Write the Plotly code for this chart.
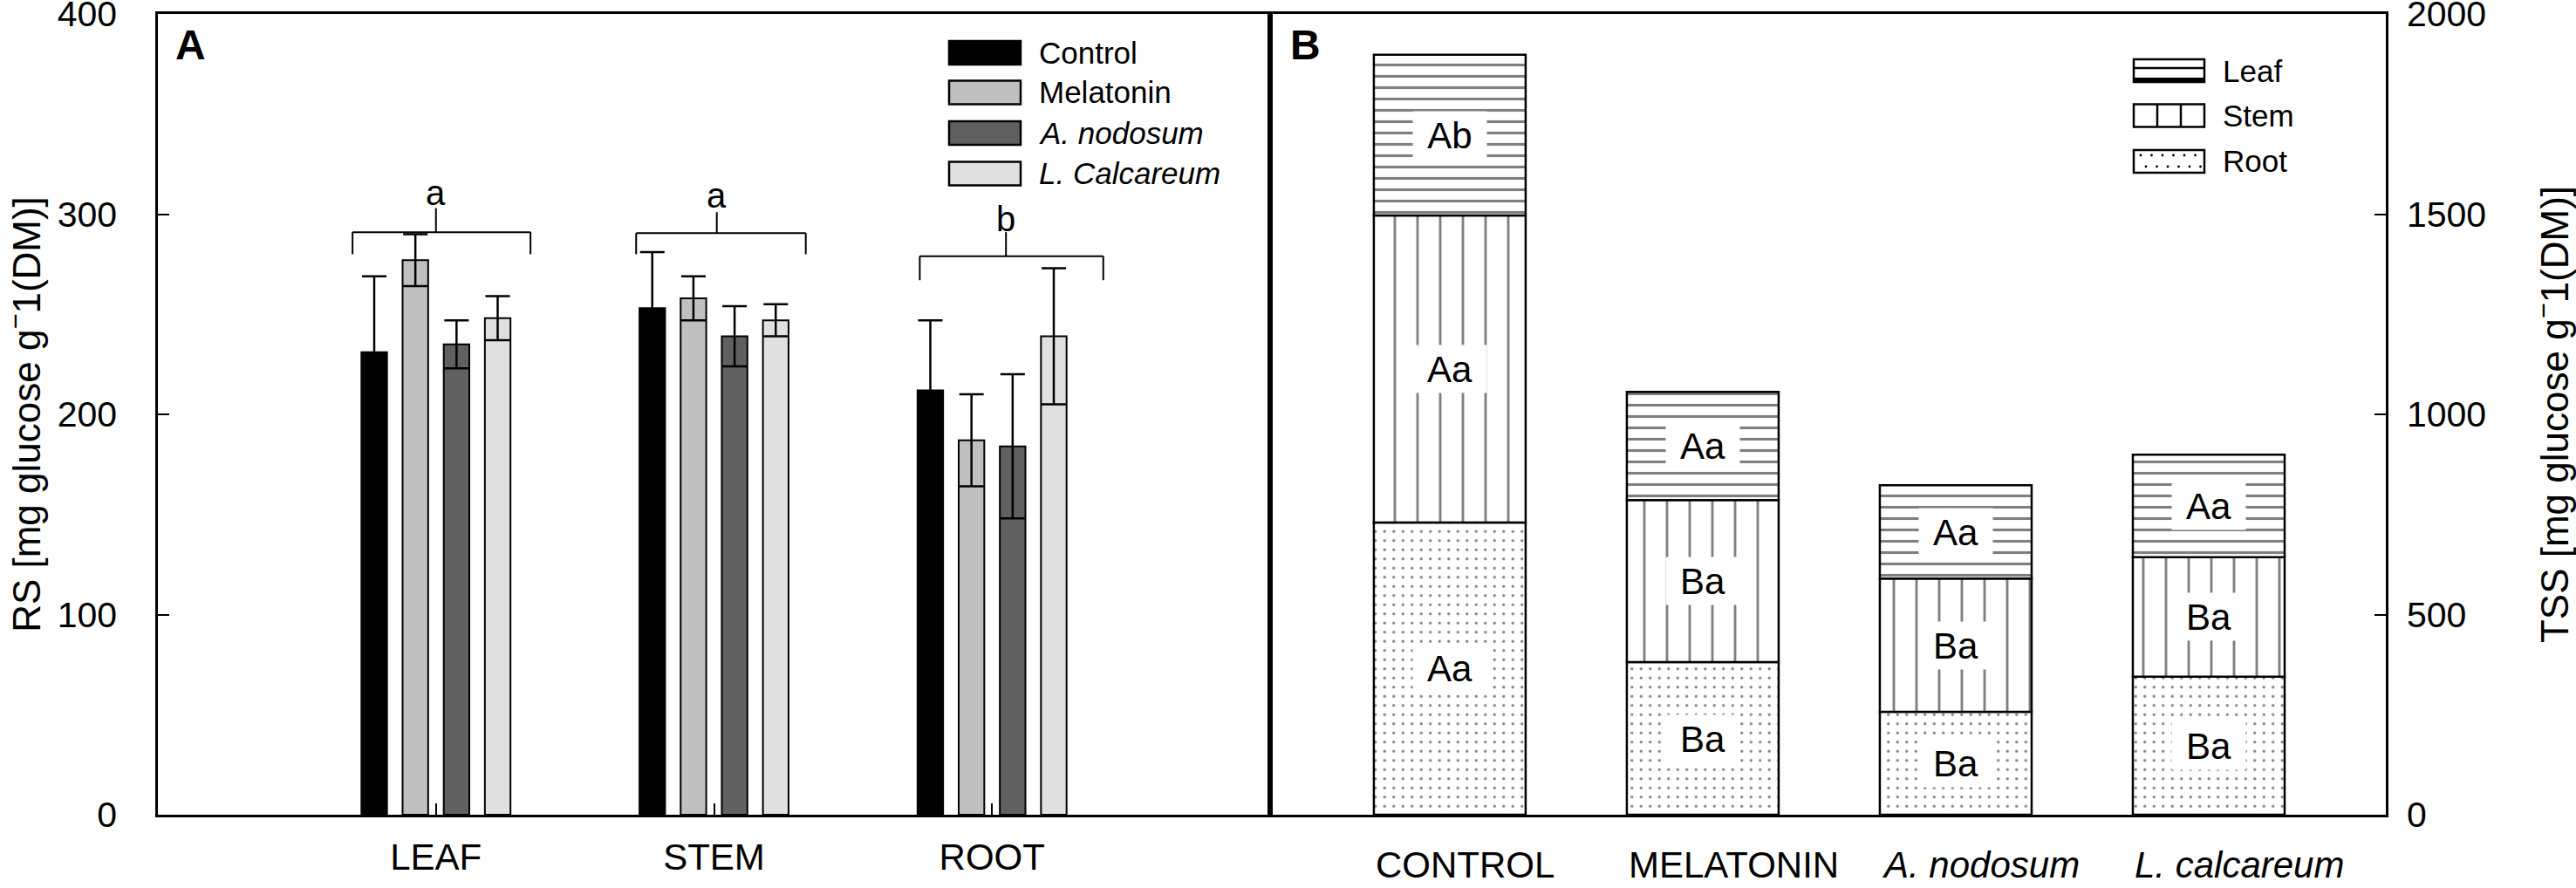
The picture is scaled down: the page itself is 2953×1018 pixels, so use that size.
import plotly.graph_objects as go

# ---------------- figure geometry (pixels) ----------------
W, H = 2953, 1018
ML, MR, MT, MB = 181, 218, 16, 84
PW, PH = W - ML - MR, H - MT - MB
SPLIT = (1456 - ML) / PW


def fx(p):
    return (p - ML) / PW


def fy(p):
    return (H - MB - p) / PH


FONT = "Liberation Sans, Arial, Helvetica, sans-serif"
INK = "#000000"

# ---------------- Panel A data ----------------
organs = ["LEAF", "STEM", "ROOT"]
treatments = ["Control", "Melatonin", "A. nodosum", "L. Calcareum"]
treatment_legend = ["Control", "Melatonin", "<i>A. nodosum</i>", "<i>L. Calcareum</i>"]
rs_control = [231, 253, 212]
rs_melatonin = [277, 258, 187]
rs_anodosum = [235, 239, 184]
rs_lcalcareum = [248, 247, 239]
sd_control = [38, 28, 35]
sd_melatonin = [13, 11, 23]
sd_anodosum = [12, 15, 36]
sd_lcalcareum = [11, 8, 34]
organ_letters = ["a", "a", "b"]
bracket_level = [291, 290.5, 279]
bracket_foot = [280, 280, 267]
bracket_top = [303, 301, 291]
letter_level = [310.5, 309.5, 297.5]

# ---------------- Panel B data ----------------
treat_b = ["CONTROL", "MELATONIN", "A. nodosum", "L. calcareum"]
treat_b_text = ["CONTROL", "MELATONIN", "<i>A. nodosum</i>", "<i>L. calcareum</i>"]
tss_root = [730, 381, 257, 345]
tss_stem = [767, 405, 333, 298]
tss_leaf = [401, 270, 233, 256]
lab_root = ["Aa", "Ba", "Ba", "Ba"]
lab_stem = ["Aa", "Ba", "Ba", "Ba"]
lab_leaf = ["Ab", "Aa", "Aa", "Aa"]
parts = ["Leaf", "Stem", "Root"]

# ---------------- styles ----------------
colors_a = ["#000000", "#c0c0c0", "#606060", "#e0e0e0"]
BW_A = 0.092
PITCH_A = 0.148
BW_B = 0.6

fig = go.Figure()

series_a = [rs_control, rs_melatonin, rs_anodosum, rs_lcalcareum]
errs_a = [sd_control, sd_melatonin, sd_anodosum, sd_lcalcareum]
for i, (name, vals, errs, col) in enumerate(zip(treatments, series_a, errs_a, colors_a)):
    centre = (i - 1.5) * PITCH_A
    fig.add_trace(go.Bar(
        x=organs, y=vals, name=name, xaxis="x", yaxis="y",
        width=BW_A, offset=centre - BW_A / 2,
        marker=dict(color=col, line=dict(color=INK, width=2)),
        error_y=dict(type="data", array=errs, visible=True, color=INK,
                     thickness=2.5, width=14),
        showlegend=False,
    ))

# Panel B stacked via explicit bases
base_stem = list(tss_root)
base_leaf = [r + s for r, s in zip(tss_root, tss_stem)]
seg_specs = [
    ("Root", tss_root, [0, 0, 0, 0], dict(shape=".", size=10.5, solidity=0.075), lab_root),
    ("Stem", tss_stem, base_stem, dict(shape="|", size=26, solidity=0.11), lab_stem),
    ("Leaf", tss_leaf, base_leaf, dict(shape="-", size=13, solidity=0.24), lab_leaf),
]
for name, vals, base, pat, labs in seg_specs:
    fig.add_trace(go.Bar(
        x=treat_b, y=vals, base=base, name=name, xaxis="x2", yaxis="y2",
        width=BW_B,
        marker=dict(color="white", line=dict(color=INK, width=2.5),
                    pattern=dict(fgcolor=INK, bgcolor="white", **pat)),
        showlegend=False,
    ))

annotations = []
shapes = []

# segment letters in panel B
for name, vals, base, pat, labs in seg_specs:
    for cat, v, b, t in zip(treat_b, vals, base, labs):
        annotations.append(dict(
            x=cat, y=b + v / 2, xref="x2", yref="y2", text=t, showarrow=False,
            font=dict(family=FONT, size=42, color=INK), bgcolor="white",
            width=84, height=54, borderpad=0, xanchor="center", yanchor="middle",
        ))

# panel B category labels (left-aligned with the bars)
for cat, t in zip(treat_b, treat_b_text):
    annotations.append(dict(
        x=cat, y=fy(991), xref="x2", yref="paper", text=t, showarrow=False,
        font=dict(family=FONT, size=42, color=INK), xanchor="left", yanchor="middle",
        xshift=-87,
    ))

# significance brackets in panel A
bracket_left = [-0.30, -0.28, -0.26]
bracket_right = [0.34, 0.33, 0.40]
bracket_stem = [0.0, 0.01, 0.05]
for i in range(len(organs)):
    l, r, s = i + bracket_left[i], i + bracket_right[i], i + bracket_stem[i]
    lw = dict(color=INK, width=2)
    shapes += [
        dict(type="line", xref="x", yref="y", x0=l, x1=r, y0=bracket_level[i], y1=bracket_level[i], line=lw),
        dict(type="line", xref="x", yref="y", x0=l, x1=l, y0=bracket_foot[i], y1=bracket_level[i], line=lw),
        dict(type="line", xref="x", yref="y", x0=r, x1=r, y0=bracket_foot[i], y1=bracket_level[i], line=lw),
        dict(type="line", xref="x", yref="y", x0=s, x1=s, y0=bracket_level[i], y1=bracket_top[i], line=lw),
    ]
    annotations.append(dict(
        x=s, y=letter_level[i], xref="x", yref="y", text=organ_letters[i], showarrow=False,
        font=dict(family=FONT, size=40, color=INK), xanchor="center", yanchor="middle",
    ))

# panel letters
annotations.append(dict(x=fx(199), y=fy(23), xref="paper", yref="paper", text="<b>A</b>",
                        showarrow=False, font=dict(family=FONT, size=48, color=INK),
                        xanchor="left", yanchor="top"))
annotations.append(dict(x=fx(1477), y=fy(23), xref="paper", yref="paper", text="<b>B</b>",
                        showarrow=False, font=dict(family=FONT, size=48, color=INK),
                        xanchor="left", yanchor="top"))

# legend A (drawn swatches)
leg_a_y = [60.5, 106, 152.5, 199]
for t, col, yc in zip(treatment_legend, colors_a, leg_a_y):
    shapes.append(dict(type="rect", xref="paper", yref="paper",
                       x0=fx(1088), x1=fx(1170), y0=fy(yc - 13.5), y1=fy(yc + 13.5),
                       fillcolor=col, line=dict(color=INK, width=2.5)))
    annotations.append(dict(x=fx(1189), y=fy(yc), xref="paper", yref="paper", text=t,
                            showarrow=False, font=dict(family=FONT, size=35, color=INK),
                            xanchor="left", yanchor="middle"))

# legend B (drawn swatches)
leg_b_y = [81, 132.5, 185]
sx0, sx1 = 2446, 2527
for t, yc in zip(parts, leg_b_y):
    shapes.append(dict(type="rect", xref="paper", yref="paper",
                       x0=fx(sx0), x1=fx(sx1), y0=fy(yc - 13), y1=fy(yc + 13),
                       fillcolor="white", line=dict(color=INK, width=2.5)))
    annotations.append(dict(x=fx(2546), y=fy(yc), xref="paper", yref="paper", text=t,
                            showarrow=False, font=dict(family=FONT, size=35, color=INK),
                            xanchor="left", yanchor="middle"))
# leaf swatch lines
shapes.append(dict(type="line", xref="paper", yref="paper", x0=fx(sx0), x1=fx(sx1),
                   y0=fy(78), y1=fy(78), line=dict(color=INK, width=2.5)))
shapes.append(dict(type="line", xref="paper", yref="paper", x0=fx(sx0), x1=fx(sx1),
                   y0=fy(91), y1=fy(91), line=dict(color=INK, width=4)))
# stem swatch lines
for xl in (2473, 2500):
    shapes.append(dict(type="line", xref="paper", yref="paper", x0=fx(xl), x1=fx(xl),
                       y0=fy(119.5), y1=fy(145.5), line=dict(color=INK, width=2.5)))
# root swatch dots
for row, yd in enumerate((178, 191)):
    for k in range(6):
        xd = 2454 + k * 12.5 + (6 if row else 0)
        if xd > sx1 - 4:
            continue
        shapes.append(dict(type="circle", xref="paper", yref="paper",
                           x0=fx(xd - 1.4), x1=fx(xd + 1.4), y0=fy(yd - 1.4), y1=fy(yd + 1.4),
                           fillcolor=INK, line=dict(width=0)))

axis_common = dict(showline=True, linecolor=INK, linewidth=2.5, mirror=True,
                   showgrid=False, zeroline=False, ticks="inside", ticklen=13,
                   tickwidth=2, tickcolor=INK)

fig.update_layout(
    width=W, height=H,
    margin=dict(l=ML, r=MR, t=MT, b=MB, autoexpand=False),
    paper_bgcolor="white", plot_bgcolor="white",
    barmode="overlay",
    font=dict(family=FONT, color=INK),
    showlegend=False,
    xaxis=dict(domain=[0, SPLIT], anchor="y", type="category",
               categoryorder="array", categoryarray=organs, range=[-1, 3],
               tickfont=dict(family=FONT, size=42, color=INK), ticklabelstandoff=10,
               automargin=False, **axis_common),
    yaxis=dict(domain=[0, 1], anchor="x", range=[0, 400], dtick=100,
               tickfont=dict(family=FONT, size=41, color=INK), ticklabelstandoff=36,
               ticklabeloverflow="allow",
               title=dict(text="RS [mg glucose g<sup>−</sup>1(DM)]",
                          font=dict(family=FONT, size=44, color=INK), standoff=12),
               automargin=False, **axis_common),
    xaxis2=dict(domain=[SPLIT, 1], anchor="y2", type="category",
                categoryorder="array", categoryarray=treat_b, range=[-0.71, 3.70],
                showline=True, linecolor=INK, linewidth=2.5, mirror=True,
                showgrid=False, zeroline=False, ticks="", showticklabels=False,
                automargin=False),
    yaxis2=dict(domain=[0, 1], anchor="x2", side="right", range=[0, 2000], dtick=500,
                tickfont=dict(family=FONT, size=41, color=INK), ticklabelstandoff=13,
                ticklabeloverflow="allow",
                title=dict(text="TSS [mg glucose g<sup>−</sup>1(DM)]",
                           font=dict(family=FONT, size=44, color=INK), standoff=66),
                automargin=False, **axis_common),
    annotations=annotations,
    shapes=shapes,
)

fig.write_html("out.html", config={"displayModeBar": False},
               post_script="document.body.style.margin='0';")
